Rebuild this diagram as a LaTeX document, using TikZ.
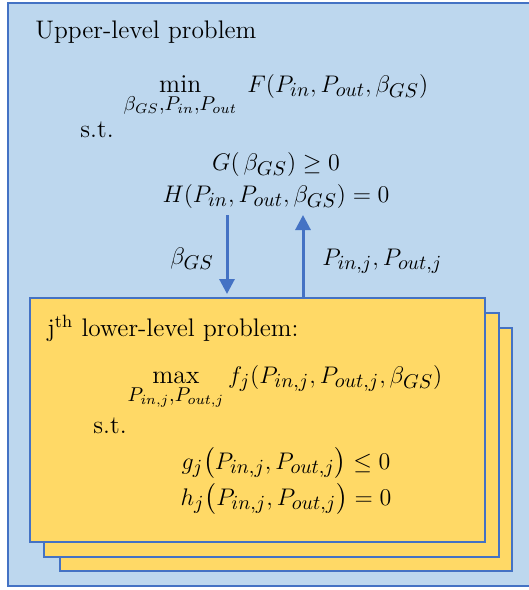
\documentclass[tikz,border=0pt]{standalone}
\usepackage{amsmath,amssymb}
\usepackage{fontspec}
\usetikzlibrary{arrows.meta,positioning,calc}
\definecolor{upperblue}{HTML}{BDD7EE}
\definecolor{edgeblue}{HTML}{4472C4}
\definecolor{loweryellow}{HTML}{FFD966}
\DeclareMathSizes{12.9}{12.9}{9.8}{7.3}
\tikzset{
  >={Triangle[length=7.5pt,width=7.5pt]},
  % rutor
  outerbox/.style={draw=edgeblue,fill=upperblue,line width=1pt},
  pagebox/.style={draw=edgeblue,fill=loweryellow,line width=1.2pt},
  % text
  hd/.style={font=\fontsize{12.7}{15}\selectfont,inner sep=0pt,anchor=base west},
  eq/.style={font=\fontsize{12.9}{15}\selectfont,inner sep=0pt,anchor=base},
  pass/.style={->,draw=edgeblue,line width=1.5pt},
}
\begin{document}
\begin{tikzpicture}[x=0.5pt,y=-0.5pt]
\clip (0,0) rectangle (529,590);
  % upper level
  \draw[outerbox] (8,3) rectangle (545,586);
  \node[hd] (uptitle) at (35,38) {Upper-level problem};
  \node[eq] (upobj) at (276,92)
    {$\displaystyle\min_{\beta_{GS},P_{in},P_{out}}\; F(P_{in},P_{out},\beta_{GS})$};
  \node[hd] (upst) at (80,137) {s.t.};
  \node[eq] (upG) at (276,170) {$G(\,\beta_{GS}) \geq 0$};
  \node[eq] (upH) at (276,202) {$H(P_{in},P_{out},\beta_{GS}) = 0$};
  % lower level, stacked
  \draw[pagebox] (60,328) rectangle (512,571);
  \draw[pagebox] (44,313) rectangle (499,557);
  \draw[pagebox] (30,298) rectangle (485,542);
  \node[hd] (lowtitle) at (47,336) {j\textsuperscript{th} lower-level problem:};
  \node[eq] (lowobj) at (285,383)
    {$\displaystyle\max_{P_{in,j},P_{out,j}} f_j(P_{in,j},P_{out,j},\beta_{GS})$};
  \node[hd] (lowst) at (93,433) {s.t.};
  \node[eq] (lowg) at (286,469) {$g_j\bigl(P_{in,j},P_{out,j}\bigr) \leq 0$};
  \node[eq] (lowh) at (286,505) {$h_j\bigl(P_{in,j},P_{out,j}\bigr) = 0$};
  % exchange
  \coordinate (dn) at (227,215);
  \coordinate (up) at (303,298);
  \draw[pass] (dn) -- (dn |- 0,294);
  \draw[pass] (up) -- (up |- 0,215);
  \node[eq] (beta) at (192,264) {$\beta_{GS}$};
  \node[eq,anchor=base west] (pjs) at (322,265) {$P_{in,j},P_{out,j}$};
\end{tikzpicture}
\end{document}
